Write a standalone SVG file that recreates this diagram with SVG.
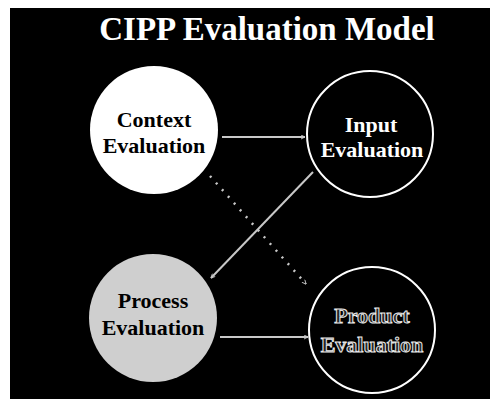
<svg xmlns="http://www.w3.org/2000/svg" width="490" height="399" viewBox="0 0 490 399">
  <style>
    .title { font-family: "Liberation Serif", "Times New Roman", serif; font-weight: bold; font-size: 33px; fill: #ffffff; }
    .lbl { font-family: "Liberation Serif", "Times New Roman", serif; font-weight: bold; font-size: 22px; text-anchor: middle; }
    .conn { stroke: #c8c8c8; stroke-width: 2; fill: none; }
    .dotted { stroke-dasharray: 2 7; stroke-width: 2.5; }
  </style>
  <defs>
    <marker id="ah" viewBox="0 0 10 10" refX="9" refY="5" markerWidth="5" markerHeight="5" orient="auto-start-reverse" markerUnits="userSpaceOnUse">
      <path d="M1,1 L9,5 L1,9" fill="none" stroke="#c8c8c8" stroke-width="1.8"/>
    </marker>
  </defs>
  <rect x="0" y="0" width="490" height="399" fill="#ffffff"/>
  <rect x="10" y="8" width="480" height="391" fill="#000000"/>
  <text class="title" x="267" y="40" text-anchor="middle">CIPP Evaluation Model</text>

  <g id="context">
    <circle cx="154" cy="130" r="64" fill="#ffffff"/>
    <text class="lbl" x="154" y="127" fill="#000">Context</text>
    <text class="lbl" x="154" y="153" fill="#000">Evaluation</text>
  </g>
  <g id="input">
    <circle cx="370" cy="134" r="63" fill="#000" stroke="#ffffff" stroke-width="2"/>
    <text class="lbl" x="371" y="132" fill="#fff">Input</text>
    <text class="lbl" x="372" y="157" fill="#fff">Evaluation</text>
  </g>
  <g id="process">
    <circle cx="153" cy="318" r="64" fill="#cfcfcf"/>
    <text class="lbl" x="153" y="308" fill="#000">Process</text>
    <text class="lbl" x="153" y="335" fill="#000">Evaluation</text>
  </g>
  <g id="product">
    <circle cx="372" cy="330" r="63" fill="#000" stroke="#ffffff" stroke-width="2"/>
    <text class="lbl" x="372" y="323" fill="#222" stroke="#e8e8e8" stroke-width="1">Product</text>
    <text class="lbl" x="372" y="352" fill="#222" stroke="#e8e8e8" stroke-width="1">Evaluation</text>
  </g>

  <g id="connectors">
    <line class="conn" x1="222" y1="137" x2="305" y2="137" marker-end="url(#ah)"/>
    <line class="conn" x1="313" y1="172" x2="211" y2="278" marker-end="url(#ah)"/>
    <line class="conn dotted" x1="210" y1="176" x2="306" y2="284" marker-end="url(#ah)"/>
    <line class="conn" x1="220" y1="337" x2="308" y2="337" marker-end="url(#ah)"/>
  </g>
</svg>
